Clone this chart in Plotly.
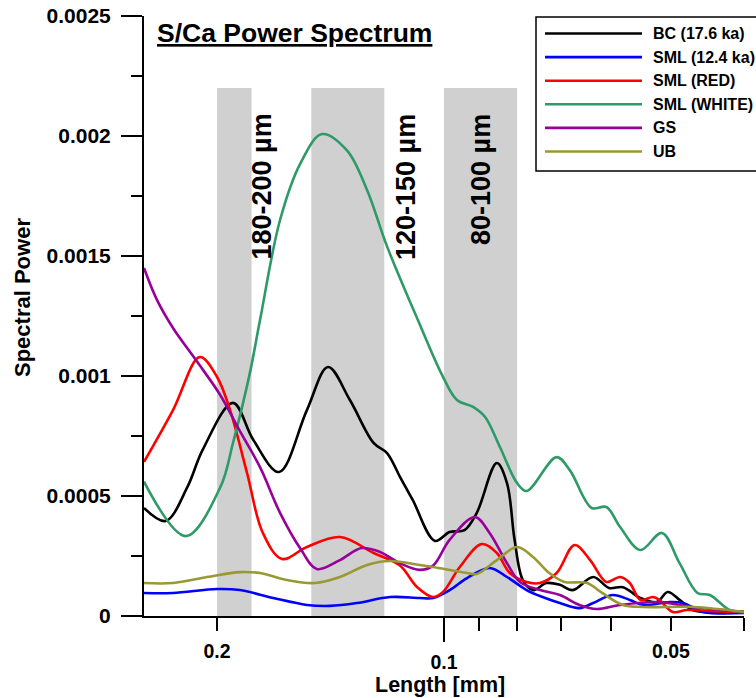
import numpy as np
import plotly.graph_objects as go

# ---------------- data ----------------
series_names = ["BC (17.6 ka)", "SML (12.4 ka)", "SML (RED)", "SML (WHITE)", "GS", "UB"]
series_colors = ["#000000", "#0000ff", "#ff0000", "#2e9a68", "#990099", "#999933"]

bc_len = [0.250, 0.234, 0.219, 0.209, 0.1905, 0.179, 0.1655, 0.152, 0.1425, 0.1333, 0.124, 0.119,
          0.1144, 0.110, 0.1028, 0.0983, 0.0939, 0.0905, 0.0851, 0.0825, 0.0806, 0.0786, 0.0762,
          0.0731, 0.0702, 0.0675, 0.0634, 0.0604, 0.0579, 0.0549, 0.0522, 0.0505, 0.0487, 0.0468,
          0.043, 0.040]
bc_pow = [4.5e-4, 3.96e-4, 5.37e-4, 6.92e-4, 8.88e-4, 7.33e-4, 6.0e-4, 8.58e-4, 1.0375e-3, 9.0e-4,
          7.21e-4, 6.79e-4, 5.8e-4, 4.83e-4, 3.13e-4, 3.5e-4, 3.58e-4, 4.29e-4, 6.375e-4, 5.54e-4,
          3.17e-4, 1.5e-4, 1.08e-4, 1.375e-4, 1.3e-4, 1.08e-4, 1.625e-4, 1.17e-4, 1.2e-4, 7.5e-5,
          5.8e-5, 1.0e-4, 6.7e-5, 2.5e-5, 1.5e-5, 1.7e-5]

sml_len = [0.250, 0.2288, 0.200, 0.1865, 0.1685, 0.152, 0.1416, 0.1305, 0.1179, 0.1077, 0.1034,
           0.0983, 0.0932, 0.0870, 0.0825, 0.0777, 0.0740, 0.0702, 0.0661, 0.0634, 0.0598, 0.0567,
           0.0544, 0.0502, 0.0482, 0.0453, 0.040]
sml_pow = [9.6e-5, 9.6e-5, 1.125e-4, 1.08e-4, 7.5e-5, 4.6e-5, 4.2e-5, 5.4e-5, 7.9e-5, 7.5e-5, 7.5e-5,
           1.08e-4, 1.58e-4, 2.0e-4, 1.625e-4, 1.08e-4, 7.9e-5, 5.4e-5, 3.3e-5, 5.4e-5, 8.75e-5,
           6.7e-5, 4.6e-5, 5.8e-5, 5.4e-5, 1.7e-5, 1.25e-5]

red_len = [0.250, 0.2288, 0.2108, 0.200, 0.1922, 0.1825, 0.1739, 0.164, 0.152, 0.1374, 0.124, 0.1144,
           0.1086, 0.1034, 0.1003, 0.0953, 0.0891, 0.0851, 0.0818, 0.0777, 0.0746, 0.0709, 0.0671,
           0.0640, 0.0609, 0.0584, 0.0567, 0.0549, 0.0528, 0.0518, 0.0497, 0.0476, 0.0440, 0.040]
red_pow = [6.42e-4, 8.58e-4, 1.079e-3, 9.96e-4, 8.58e-4, 5.96e-4, 3.46e-4, 2.375e-4, 2.875e-4,
           3.29e-4, 2.625e-4, 2.1e-4, 1.21e-4, 7.9e-5, 1.0e-4, 2.04e-4, 3.0e-4, 2.625e-4, 1.79e-4,
           1.42e-4, 1.375e-4, 1.79e-4, 2.96e-4, 2.33e-4, 1.42e-4, 1.625e-4, 1.375e-4, 6.7e-5, 7.9e-5,
           6.7e-5, 1.7e-5, 2.5e-5, 2.0e-5, 1.7e-5]

white_len = [0.250, 0.220, 0.198, 0.1905, 0.181, 0.1754, 0.165, 0.155, 0.1452, 0.1345, 0.1265,
             0.119, 0.1083, 0.1003, 0.0961, 0.0915, 0.0882, 0.0843, 0.0800, 0.0777, 0.0709, 0.0681,
             0.0637, 0.0609, 0.0584, 0.0549, 0.0514, 0.0487, 0.0461, 0.0444, 0.0418, 0.040]
white_pow = [5.6e-4, 3.33e-4, 5.37e-4, 7.21e-4, 1.01e-3, 1.233e-3, 1.65e-3, 1.887e-3, 2.008e-3,
             1.94e-3, 1.775e-3, 1.54e-3, 1.233e-3, 9.96e-4, 9.0e-4, 8.71e-4, 8.29e-4, 7.04e-4,
             5.54e-4, 5.21e-4, 6.62e-4, 6.08e-4, 4.5e-4, 4.54e-4, 3.71e-4, 2.75e-4, 3.46e-4, 2.2e-4,
             9.6e-5, 8.75e-5, 2.5e-5, 1.7e-5]

gs_len = [0.250, 0.2403, 0.2288, 0.2126, 0.198, 0.1865, 0.1754, 0.165, 0.155, 0.1475, 0.1374, 0.1286,
          0.1216, 0.1144, 0.1077, 0.1034, 0.0983, 0.0910, 0.0870, 0.0825, 0.0793, 0.0746, 0.0702,
          0.0661, 0.0627, 0.0584, 0.0518, 0.0468, 0.040]
gs_pow = [1.45e-3, 1.317e-3, 1.2e-3, 1.06e-3, 9.2e-4, 7.7e-4, 6.2e-4, 4.3e-4, 2.8e-4, 1.96e-4,
          2.33e-4, 2.83e-4, 2.67e-4, 2.2e-4, 1.92e-4, 2.1e-4, 3.17e-4, 4.125e-4, 3.46e-4, 2.2e-4,
          1.42e-4, 1.08e-4, 8.75e-5, 4.6e-5, 2.9e-5, 4.6e-5, 5.8e-5, 3.75e-5, 1.7e-5]

ub_len = [0.250, 0.2288, 0.2062, 0.1865, 0.1754, 0.1616, 0.1483, 0.1374, 0.1265, 0.1179, 0.1077,
          0.1034, 0.0932, 0.0905, 0.0851, 0.0800, 0.0762, 0.0725, 0.0692, 0.0646, 0.0617, 0.0579,
          0.0544, 0.0468, 0.040]
ub_pow = [1.375e-4, 1.375e-4, 1.625e-4, 1.83e-4, 1.79e-4, 1.5e-4, 1.375e-4, 1.625e-4, 2.125e-4,
          2.29e-4, 2.125e-4, 2.04e-4, 1.79e-4, 1.75e-4, 2.33e-4, 2.875e-4, 2.46e-4, 1.79e-4, 1.42e-4,
          1.375e-4, 9.6e-5, 4.6e-5, 3.75e-5, 3.75e-5, 1.7e-5]

band_ranges = [(0.18, 0.20), (0.12, 0.15), (0.08, 0.10)]
band_top = 0.0022
band_labels = ["180-200 µm", "120-150 µm", "80-100 µm"]

y_tickvals = [0, 0.0005, 0.001, 0.0015, 0.002, 0.0025]
y_ticktext = ["0", "0.0005", "0.001", "0.0015", "0.002", "0.0025"]
y_minor = [0.00025, 0.00075, 0.00125, 0.00175, 0.00225]
x_major = [0.2, 0.05]
x_major_text = ["0.2", "0.05"]
x_long = [0.1]
x_long_text = ["0.1"]
x_minor = [0.09, 0.08, 0.07, 0.06, 0.04]
x_range = (0.25, 0.04)

lengths = [bc_len, sml_len, red_len, white_len, gs_len, ub_len]
powers = [bc_pow, sml_pow, red_pow, white_pow, gs_pow, ub_pow]

# ---------------- figure ----------------
FONT = "Liberation Sans, Arial, sans-serif"
W, H = 756, 698
L, R, T, B = 144, 12, 16, 82
PW, PH = W - L - R, H - T - B


def pxx(x):
    return (x - L) / PW


def pxy(y):
    return (H - B - y) / PH


fig = go.Figure()

# shaded bands (drawn first, beneath the spectra)
for (a, b) in band_ranges:
    fig.add_trace(go.Scatter(x=[a, a, b, b, a], y=[0, band_top, band_top, 0, 0], mode="lines",
                             fill="toself", fillcolor="#d0d0d0", line=dict(width=0, color="#d0d0d0"),
                             hoverinfo="skip", showlegend=False))

for name, col, xs, ys in zip(series_names, series_colors, lengths, powers):
    fig.add_trace(go.Scatter(x=xs, y=ys, name=name, mode="lines",
                             line=dict(color=col, width=2.6, shape="spline", smoothing=1.0),
                             showlegend=False))

# carrier trace for the secondary (long-tick) x axis
fig.add_trace(go.Scatter(x=x_long, y=[0], xaxis="x2", mode="markers", marker=dict(opacity=0),
                         hoverinfo="skip", showlegend=False))

shapes = []
annotations = []
label_centers = [261.5, 406, 480.5]
for lab, cx in zip(band_labels, label_centers):
    annotations.append(dict(text=lab, x=pxx(cx), y=pxy(112), xref="paper", yref="paper",
                            xanchor="center", yanchor="top", textangle=-90, showarrow=False,
                            font=dict(family=FONT, size=27, color="black", weight="bold")))
# title
annotations.append(dict(text="<u>S/Ca Power Spectrum</u>", x=pxx(155), y=pxy(16), xref="paper", yref="paper",
                        xanchor="left", yanchor="top", showarrow=False,
                        font=dict(family=FONT, size=26.5, color="black", weight="bold")))
# axis titles
annotations.append(dict(text="Spectral Power", x=pxx(22), y=pxy(298), xref="paper", yref="paper",
                        xanchor="center", yanchor="middle", textangle=-90, showarrow=False,
                        font=dict(family=FONT, size=22, color="black", weight="bold")))
annotations.append(dict(text="Length [mm]", x=pxx(440), y=pxy(685), xref="paper", yref="paper",
                        xanchor="center", yanchor="middle", showarrow=False,
                        font=dict(family=FONT, size=21.5, color="black", weight="bold")))

# manual legend
leg_x0, leg_y0, leg_x1, leg_y1 = 536, 17, 770, 171
shapes.append(dict(type="rect", xref="paper", yref="paper", x0=pxx(leg_x0), x1=pxx(leg_x1),
                   y0=pxy(leg_y1), y1=pxy(leg_y0), line=dict(color="black", width=1.5),
                   fillcolor="white", layer="above"))
row_y0, row_dy = 33.5, 23.6
for i, (name, col) in enumerate(zip(series_names, series_colors)):
    yy = row_y0 + i * row_dy
    shapes.append(dict(type="line", xref="paper", yref="paper", x0=pxx(545), x1=pxx(642),
                       y0=pxy(yy), y1=pxy(yy), line=dict(color=col, width=2.6), layer="above"))
    annotations.append(dict(text=name, x=pxx(651), y=pxy(yy), xref="paper", yref="paper",
                            xanchor="left", yanchor="middle", showarrow=False,
                            font=dict(family=FONT, size=16, color="black", weight="bold")))

tickfont_y = dict(family=FONT, size=21, color="black", weight="bold")
tickfont_x = dict(family=FONT, size=19.5, color="black", weight="bold")
xr = [np.log10(x_range[0]), np.log10(x_range[1])]

fig.update_layout(
    width=W, height=H, margin=dict(l=L, r=R, t=T, b=B, autoexpand=False),
    paper_bgcolor="white", plot_bgcolor="rgba(0,0,0,0)", showlegend=False,
    shapes=shapes, annotations=annotations,
    xaxis=dict(type="log", range=xr, tickmode="array", tickvals=x_major, ticktext=x_major_text,
               ticks="outside", ticklen=13, tickwidth=2, tickcolor="black",
               showline=True, linewidth=2, linecolor="black", showgrid=False, zeroline=False,
               tickfont=tickfont_x, ticklabelstandoff=4,
               minor=dict(tickmode="array", tickvals=x_minor, ticks="outside", ticklen=13,
                          tickwidth=2, tickcolor="black", showgrid=False)),
    xaxis2=dict(type="log", range=xr, overlaying="x", anchor="y", side="bottom",
                tickmode="array", tickvals=x_long, ticktext=x_long_text,
                ticks="outside", ticklen=25, tickwidth=2, tickcolor="black",
                showline=False, showgrid=False, zeroline=False, tickfont=tickfont_x,
                ticklabelstandoff=4),
    yaxis=dict(range=[0, 0.0025], tickmode="array", tickvals=y_tickvals, ticktext=y_ticktext,
               ticks="outside", ticklen=21, tickwidth=2, tickcolor="black",
               showline=True, linewidth=2, linecolor="black", showgrid=False, zeroline=False,
               tickfont=tickfont_y, ticklabelstandoff=6,
               minor=dict(tickmode="array", tickvals=y_minor, ticks="outside", ticklen=11,
                          tickwidth=2, tickcolor="black", showgrid=False)),
)

fig.write_html("out.html")
